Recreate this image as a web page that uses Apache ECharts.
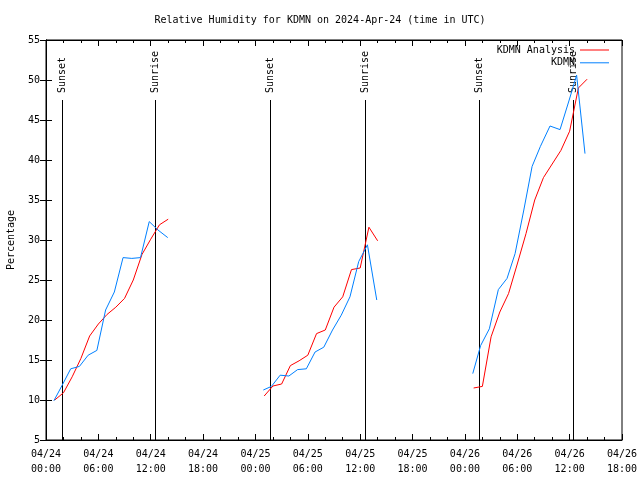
<!DOCTYPE html>
<html>
<head>
<meta charset="utf-8">
<script src="https://cdn.jsdelivr.net/npm/echarts@6/dist/echarts.min.js"></script>
<style>html,body{margin:0;padding:0;background:#fff}#c{width:640px;height:480px}</style>
</head>
<body>
<div id="c"></div>
<script>
// Hours since 2024-04-24 00:00 UTC; null marks a gap between runs
const analysisHours = [1,2,3,4,5,6,7,8,9,10,11,12,13,14, null,
  25,26,27,28,29,30,31,32,33,34,35,36,37,38, null,
  49,50,51,52,53,54,55,56,57,58,59,60,61,62];
const analysisRH = [10.0,10.9,12.9,15.2,18.0,19.5,20.7,21.6,22.7,25.0,28.2,30.1,31.9,32.6, null,
  10.5,11.75,12.0,14.3,14.9,15.6,18.3,18.75,21.6,22.9,26.3,26.5,31.6,29.9, null,
  11.5,11.7,17.9,21.0,23.3,27.0,30.8,35.0,37.8,39.5,41.2,43.6,49.0,50.1];
const obsHours = [0.9,1.83,2.83,3.83,4.83,5.83,6.83,7.83,8.83,9.83,10.83,11.83,12.83,13.95, null,
  24.9,25.83,26.83,27.83,28.83,29.83,30.83,31.83,32.83,33.83,34.83,35.83,36.83,37.9, null,
  48.9,49.8,50.8,51.83,52.83,53.75,54.75,55.7,56.65,57.75,58.9,59.95,60.8,61.76];
const obsRH = [9.9,11.8,13.9,14.2,15.6,16.2,21.25,23.5,27.8,27.7,27.8,32.3,31.25,30.3, null,
  11.25,11.7,13.1,13.0,13.8,13.9,16.0,16.6,18.75,20.6,22.9,27.3,29.4,22.5, null,
  13.3,16.8,18.9,23.8,25.2,28.3,33.75,39.2,41.7,44.25,43.8,47.5,50.6,40.8];
const sunHours = [1.8, 12.48, 25.7, 36.52, 49.65, 60.42];
const sunLabels = ['Sunset','Sunrise','Sunset','Sunrise','Sunset','Sunrise'];
const xTickLabels = ['04/24\n00:00','04/24\n06:00','04/24\n12:00','04/24\n18:00',
  '04/25\n00:00','04/25\n06:00','04/25\n12:00','04/25\n18:00',
  '04/26\n00:00','04/26\n06:00','04/26\n12:00','04/26\n18:00'];
const yTicks = [5,10,15,20,25,30,35,40,45,50,55];

const FONT = 'DejaVu Sans Mono';
function pairs(xs, ys){ return xs.map((x,i)=> x===null ? '-' : [x, ys[i]]); }

const chart = echarts.init(document.getElementById('c'), null, {renderer:'canvas'});
const axisCommon = {
  type:'value', min:0, max:66, interval:6,
  axisLine:{show:true, lineStyle:{color:'#000', width:1}},
  axisTick:{show:true, inside:true, length:6, lineStyle:{color:'#000'}},
  minorTick:{show:true, splitNumber:3, length:3, lineStyle:{color:'#000'}},
  splitLine:{show:false}
};
chart.setOption({
  animation:false,
  backgroundColor:'#fff',
  title:{text:'Relative Humidity for KDMN on 2024-Apr-24 (time in UTC)', left:'center', top:10,
    textStyle:{fontFamily:FONT, fontSize:10, fontWeight:'normal', color:'#000'}},
  legend:{orient:'vertical', right:31, top:44, padding:0, align:'right', icon:'rect', itemWidth:29, itemHeight:1, itemGap:0.8,
    textStyle:{fontFamily:FONT, fontSize:10, color:'#000', lineHeight:12},
    data:['KDMN Analysis','KDMN']},
  grid:{left:46, right:18, top:40, bottom:40, containLabel:false, outerBoundsMode:'none',
    show:true, borderColor:'#000', borderWidth:1, backgroundColor:'transparent'},
  xAxis:[
    Object.assign({}, axisCommon, {position:'bottom',
      axisLabel:{margin:7, fontFamily:FONT, fontSize:10, color:'#000', lineHeight:15,
        formatter:(v)=> xTickLabels[Math.round(v/6)] || ''}}),
    Object.assign({}, axisCommon, {position:'top', axisLabel:{show:false}})
  ],
  yAxis:[
    {type:'value', min:5, max:55, interval:5, position:'left',
      name:'Percentage', nameLocation:'middle', nameGap:30, nameRotate:90,
      nameTextStyle:{fontFamily:FONT, fontSize:10, color:'#000'},
      axisLine:{show:true, lineStyle:{color:'#000'}},
      axisTick:{show:true, inside:true, length:6, lineStyle:{color:'#000'}},
      axisLabel:{margin:6, fontFamily:FONT, fontSize:10, color:'#000',
        formatter:(v)=> yTicks.indexOf(v)>=0 ? String(v) : ''},
      splitLine:{show:false}},
    {type:'value', min:5, max:55, interval:5, position:'right',
      axisLine:{show:true, lineStyle:{color:'#000'}},
      axisTick:{show:true, inside:true, length:6, lineStyle:{color:'#000'}},
      axisLabel:{show:false}, splitLine:{show:false}}
  ],
  series:[
    {type:'custom', name:'sun', xAxisIndex:0, yAxisIndex:0, silent:true,
      data: sunHours.map((h,i)=>[h, sunLabels[i]]),
      renderItem:(params, api)=>{
        const h = api.value(0);
        const bottom = api.coord([h, 5]);
        const top = api.coord([h, 47.5]);
        const x = Math.round(bottom[0]) + 0.5;
        return {type:'group', children:[
          {type:'line', shape:{x1:x, y1:bottom[1], x2:x, y2:top[1]}, style:{stroke:'#000', lineWidth:1}},
          {type:'text', x:x, y:top[1]-7, rotation:Math.PI/2,
            style:{text:sunLabels[params.dataIndex], x:0, y:0, align:'left', verticalAlign:'middle',
              font:'10px "DejaVu Sans Mono"', fill:'#000'}}
        ]};
      }},
    {type:'line', name:'KDMN Analysis', data:pairs(analysisHours, analysisRH), symbol:'none', connectNulls:false,
      lineStyle:{color:'#ff0000', width:1}, itemStyle:{color:'#ff0000'}},
    {type:'line', name:'KDMN', data:pairs(obsHours, obsRH), symbol:'none', connectNulls:false,
      lineStyle:{color:'#0080ff', width:1}, itemStyle:{color:'#0080ff'}}
  ]
});
</script>
</body>
</html>
